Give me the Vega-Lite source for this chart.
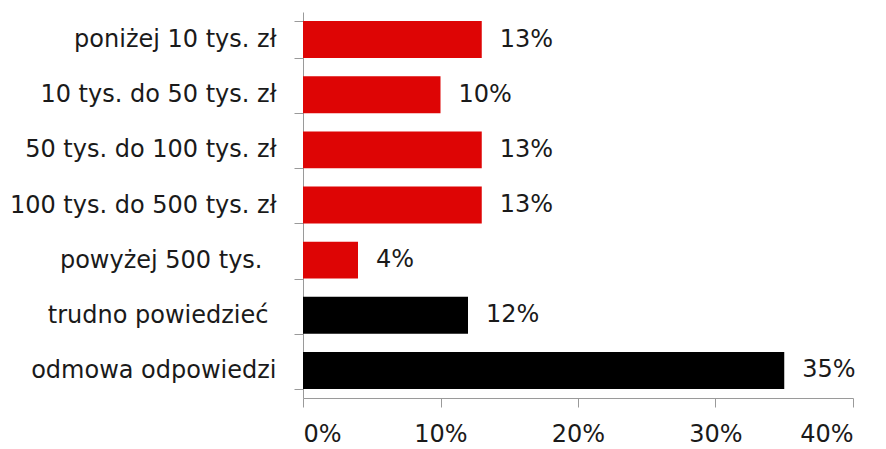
{
  "$schema": "https://vega.github.io/schema/vega-lite/v6.json",
  "width": 550,
  "height": 386,
  "autosize": {"type": "none"},
  "padding": {"left": 303, "top": 12, "right": 33, "bottom": 51},
  "background": "white",
  "config": {"view": {"stroke": null}, "font": "DejaVu Sans"},
  "data": {"values": [
    {"cat": "poniżej 10 tys. zł", "v": 0.13, "g": "a"},
    {"cat": "10 tys. do 50 tys. zł", "v": 0.10, "g": "a"},
    {"cat": "50 tys. do 100 tys. zł", "v": 0.13, "g": "a"},
    {"cat": "100 tys. do 500 tys. zł", "v": 0.13, "g": "a"},
    {"cat": "powyżej 500 tys.", "v": 0.04, "g": "a"},
    {"cat": "trudno powiedzieć", "v": 0.12, "g": "b"},
    {"cat": "odmowa odpowiedzi", "v": 0.35, "g": "b"}
  ]},
  "encoding": {
    "y": {"field": "cat", "type": "nominal", "sort": null, "title": null,
      "scale": {"paddingInner": 0.33, "paddingOuter": 0.165},
      "axis": {"tickBand": "extent", "domainColor": "#9a9a9a", "tickColor": "#9a9a9a", "tickSize": 9,
        "labelPadding": {"condition": [
          {"test": "datum.value === 'powyżej 500 tys.'", "value": 32},
          {"test": "datum.value === 'trudno powiedzieć'", "value": 26}
        ], "value": 18},
        "labelFontSize": 24, "labelLimit": 400, "labelColor": "#1a1a1a", "labelFont": "DejaVu Sans", "labelFontWeight": 400}},
    "x": {"field": "v", "type": "quantitative", "title": null,
      "scale": {"domain": [0, 0.4]},
      "axis": {"format": ".0%", "values": [0, 0.1, 0.2, 0.3, 0.4], "grid": false, "domainColor": "#9a9a9a", "tickColor": "#9a9a9a", "tickSize": 9, "labelPadding": 15, "labelFontSize": 24, "labelColor": "#1a1a1a", "labelFont": "DejaVu Sans", "labelFontWeight": 400}}
  },
  "layer": [
    {"mark": {"type": "bar"},
      "encoding": {"color": {"field": "g", "type": "nominal", "legend": null,
        "scale": {"domain": ["a", "b"], "range": ["#de0505", "#000000"]}}}},
    {"mark": {"type": "text", "align": "left", "dx": 18, "fontSize": 24, "font": "DejaVu Sans", "fontWeight": 400, "color": "#1a1a1a"},
      "encoding": {"text": {"field": "v", "type": "quantitative", "format": ".0%"}}}
  ]
}
